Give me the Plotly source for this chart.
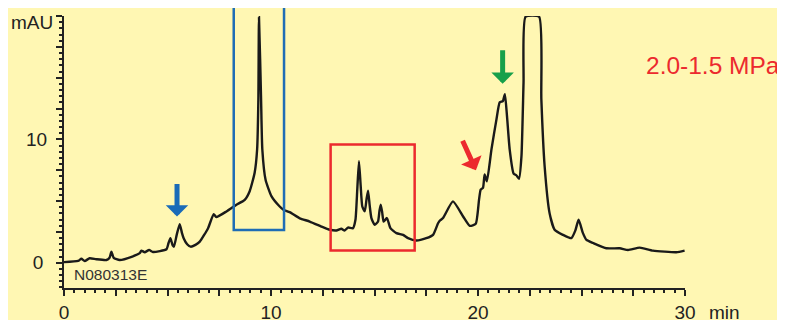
import plotly.graph_objects as go

# Chromatogram trace (time in min, absorbance in mAU)
time_min = [0.0, 0.68, 0.84, 1.0, 1.24, 1.56, 2.05, 2.2, 2.29, 2.4, 2.69, 3.3, 3.66, 3.74, 3.9,
            4.11, 4.3, 4.95, 5.05, 5.14, 5.25, 5.31, 5.45, 5.59, 5.7, 5.78, 5.95, 6.12, 6.35,
            6.56, 6.96, 7.23, 7.36, 7.85, 8.33, 8.73, 8.97, 9.21, 9.33, 9.39, 9.42, 9.52, 9.58,
            9.74, 10.02, 10.42, 10.6, 10.9, 11.39, 11.87, 12.51, 12.84, 13.16, 13.4, 13.56,
            13.72, 13.96, 14.08, 14.17, 14.25, 14.33, 14.41, 14.53, 14.62, 14.69, 14.77, 14.85,
            15.01, 15.17, 15.24, 15.3, 15.37, 15.44, 15.6, 15.77, 16.06, 16.38, 16.62, 17.02,
            17.5, 17.83, 18.07, 18.15, 18.31, 18.79, 19.28, 19.6, 19.89, 20.05, 20.13, 20.24,
            20.32, 20.43, 20.65, 20.89, 21.05, 21.2, 21.3, 21.4, 21.53, 21.72, 21.86, 21.98,
            22.1, 22.2, 22.3, 22.95, 23.06, 23.22, 23.46, 23.7, 24.1, 24.51, 24.7, 24.86, 25.07,
            25.24, 25.56, 26.2, 26.85, 27.25, 27.81, 28.45, 29.58, 29.98]
absorbance = [0.05, 0.14, 0.32, 0.14, 0.36, 0.28, 0.22, 0.4, 0.9, 0.4, 0.22, 0.5, 0.77, 0.98, 0.85,
              1.03, 0.87, 1.09, 1.6, 1.99, 1.4, 1.3, 2.3, 3.13, 2.4, 1.99, 1.5, 1.3, 1.45,
              1.71, 2.8, 3.94, 3.7, 4.16, 4.7, 5.1, 5.8, 7.3, 9.2, 13.3, 19.9, 13.3, 9.2,
              6.7, 5.4, 4.56, 4.3, 4.1, 3.6, 3.34, 2.88, 2.67, 2.61, 2.75, 2.61,
              2.85, 2.8, 3.48, 6.0, 8.23, 6.3, 4.56, 4.16, 5.2, 5.84, 4.6, 3.62,
              3.07, 3.34, 4.2, 4.7, 4.1, 3.34, 3.62, 2.8, 2.4, 2.26, 1.99, 1.8,
              1.99, 2.26, 3.2, 3.4, 3.62, 4.97, 3.75, 2.99, 3.15, 5.11, 5.93, 6.06,
              7.15, 6.6, 9.19, 11.6, 13.0, 13.1, 13.67, 11.9, 9.19, 7.23, 7.07, 6.8,
              8.64, 14.6, 19.95, 19.95, 13.26, 7.8, 4.0, 2.67, 2.26, 1.99, 2.6, 3.48, 2.4,
              1.85, 1.6, 1.17, 1.17, 1.03, 1.22, 0.98, 0.85, 0.98]

# Axis ticks
x_tick_vals = [0, 2.5, 5, 7.5, 10, 12.5, 15, 17.5, 20, 22.5, 25, 27.5, 30]
x_tick_text = ["0", "", "", "", "10", "", "", "", "20", "", "", "", "30"]
y_tick_vals = [0, 2.5, 5, 7.5, 10, 12.5, 15, 17.5, 20]
y_tick_text = ["0\u2009", "", "", "", "10", "", "", "", ""]
x_unit = "min"
y_unit = "mAU"

# Highlight boxes: (x0, x1, y0[, y1]) in data units
blue_box = (8.2, 10.63, 2.66)
red_box = (12.88, 16.94, 1.0, 9.59)

# Arrows: tip (time, mAU), tail offset in px
arrows = [
    dict(x=5.46, y=3.75, ax=0, ay=-34, color="#1a6bb8"),
    dict(x=21.19, y=14.5, ax=0, ay=-35, color="#17a04a"),
    dict(x=19.9, y=7.5, ax=-14, ay=-31, color="#ec2a2e"),
]

sample_id = "N080313E"
pressure_label = "2.0-1.5 MPa"

BG = "#fff7b3"
INK = "#222222"
FONT = "Liberation Sans, Arial, sans-serif"
Y_LO, Y_HI = -2.05, 20

fig = go.Figure()
fig.add_trace(go.Scatter(x=time_min, y=absorbance, mode="lines",
                         line=dict(color="#1a1a1a", width=2.4, shape="spline", smoothing=0.5),
                         hoverinfo="skip"))

# page body adds an 8px offset, margins compensate for it
fig.update_layout(
    template="none",
    width=785, height=320,
    margin=dict(l=56, r=108, t=8, b=40, autoexpand=False),
    paper_bgcolor=BG, plot_bgcolor=BG,
    showlegend=False,
    font=dict(family=FONT, size=19, color=INK),
)
fig.update_xaxes(
    range=[0, 30], showgrid=False, zeroline=False, automargin=False,
    showline=True, linecolor=INK, linewidth=2,
    tickmode="array", tickvals=x_tick_vals, ticktext=x_tick_text,
    ticks="outside", ticklen=6, tickwidth=2, tickcolor=INK,
    minor=dict(dtick=0.5, tick0=0, ticks="outside", ticklen=3, tickwidth=1.5, tickcolor=INK, showgrid=False),
    tickfont=dict(family=FONT, size=19, color=INK),
)
fig.update_yaxes(
    range=[Y_LO, Y_HI], showgrid=False, zeroline=False, automargin=False,
    showline=True, linecolor=INK, linewidth=2,
    tickmode="array", tickvals=y_tick_vals, ticktext=y_tick_text,
    ticks="outside", ticklen=6, tickwidth=2, tickcolor=INK,
    minor=dict(dtick=0.5, tick0=0, ticks="outside", ticklen=3, tickwidth=1.5, tickcolor=INK, showgrid=False),
    tickfont=dict(family=FONT, size=19, color=INK),
    ticklabelstandoff=5,
)

# boxes
fig.add_shape(type="rect", xref="x", yref="paper",
              x0=blue_box[0], x1=blue_box[1],
              y0=(blue_box[2] - Y_LO) / (Y_HI - Y_LO), y1=1.1,
              line=dict(color="#1f6db5", width=2.5), fillcolor="rgba(0,0,0,0)")
fig.add_shape(type="rect", xref="x", yref="y",
              x0=red_box[0], x1=red_box[1], y0=red_box[2], y1=red_box[3],
              line=dict(color="#ec2a2e", width=2.5), fillcolor="rgba(0,0,0,0)")

for a in arrows:
    fig.add_annotation(x=a["x"], y=a["y"], ax=a["ax"], ay=a["ay"], text="",
                       showarrow=True, arrowhead=1, arrowwidth=5, arrowsize=0.75,
                       arrowcolor=a["color"], standoff=0)

fig.add_annotation(xref="paper", yref="paper", x=-0.0145, y=0.975, text=y_unit,
                   showarrow=False, xanchor="right", yanchor="middle",
                   font=dict(family=FONT, size=19, color=INK))
fig.add_annotation(xref="paper", yref="paper", x=1.035, y=-0.045, text=x_unit,
                   showarrow=False, xanchor="left", yanchor="top",
                   font=dict(family=FONT, size=19, color=INK))
fig.add_annotation(xref="x", yref="y", x=0.37, y=-0.96, text=sample_id,
                   showarrow=False, xanchor="left", yanchor="middle",
                   font=dict(family=FONT, size=15.5, color="#333333"))
fig.add_annotation(xref="paper", yref="y", x=1.156, y=15.95, text=pressure_label,
                   showarrow=False, xanchor="right", yanchor="middle",
                   font=dict(family=FONT, size=24.5, color="#ec2a2e"))

fig.write_html("out.html")
